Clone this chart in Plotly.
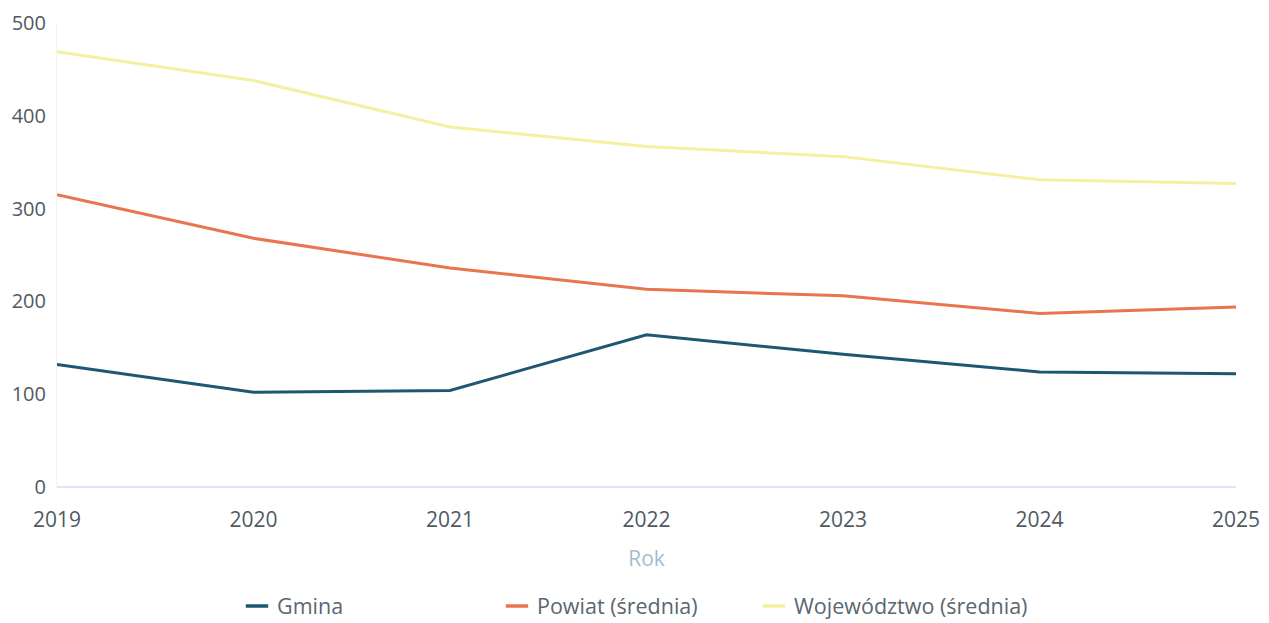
import plotly.graph_objects as go

years = [2019, 2020, 2021, 2022, 2023, 2024, 2025]
gmina = [132, 102, 104, 164, 143, 124, 122]
powiat = [315, 268, 236, 213, 206, 187, 194]
wojewodztwo = [469, 438, 388, 367, 356, 331, 327]

names = ["Gmina", "Powiat (średnia)", "Województwo (średnia)"]
colors = ["#1d5773", "#ea7350", "#f4f0a2"]
series = [gmina, powiat, wojewodztwo]
legend_ids = ["legend", "legend2", "legend3"]
legend_x = [229, 489, 746]

fig = go.Figure()
for name, col, vals in zip(names, colors, series):
    fig.add_trace(go.Scatter(x=years, y=vals, mode="lines", name=name,
                             line=dict(color=col, width=3), showlegend=False))
for name, col, lg in zip(names, colors, legend_ids):
    fig.add_trace(go.Scatter(x=[None], y=[None], mode="markers", name=name,
                             marker=dict(symbol="line-ew", size=16,
                                         line=dict(color=col, width=3.5)),
                             showlegend=True, legend=lg))

W, H = 1261, 615
legend_common = dict(orientation="h", xanchor="left", xref="container",
                     y=1 - 598 / H, yanchor="middle", yref="container",
                     itemwidth=30, font=dict(size=21.5, color="#5a6670"),
                     bgcolor="rgba(0,0,0,0)")

# the page body adds an 8px offset; margins compensate for it
fig.update_layout(
    width=W, height=H,
    margin=dict(l=49, r=33, t=15, b=136),
    paper_bgcolor="white", plot_bgcolor="white",
    font=dict(family="Open Sans", size=21, color="#5a6670"),
    showlegend=True,
    legend=dict(x=legend_x[0] / W, **legend_common),
    legend2=dict(x=legend_x[1] / W, **legend_common),
    legend3=dict(x=legend_x[2] / W, **legend_common),
    xaxis=dict(range=[2019, 2025], tickvals=years, ticktext=[str(y) for y in years],
               showgrid=False, zeroline=False, showline=False, automargin=False,
               ticks="outside", ticklen=14, tickcolor="rgba(0,0,0,0)",
               ticklabeloverflow="allow",
               title=dict(text="Rok", font=dict(size=21, color="#a6bccb"), standoff=19),
               tickfont=dict(size=21, color="#4f5a63")),
    yaxis=dict(range=[0, 500], tickvals=[0, 100, 200, 300, 400, 500],
               showgrid=False, zeroline=True, zerolinecolor="#dbe8f3", zerolinewidth=1.5,
               showline=True, linecolor="#eef4fa", linewidth=1, automargin=False,
               ticks="outside", ticklen=6, tickcolor="rgba(0,0,0,0)",
               ticklabeloverflow="allow",
               tickfont=dict(size=20, color="#4f5a63")),
)

fig.write_html("out.html")
